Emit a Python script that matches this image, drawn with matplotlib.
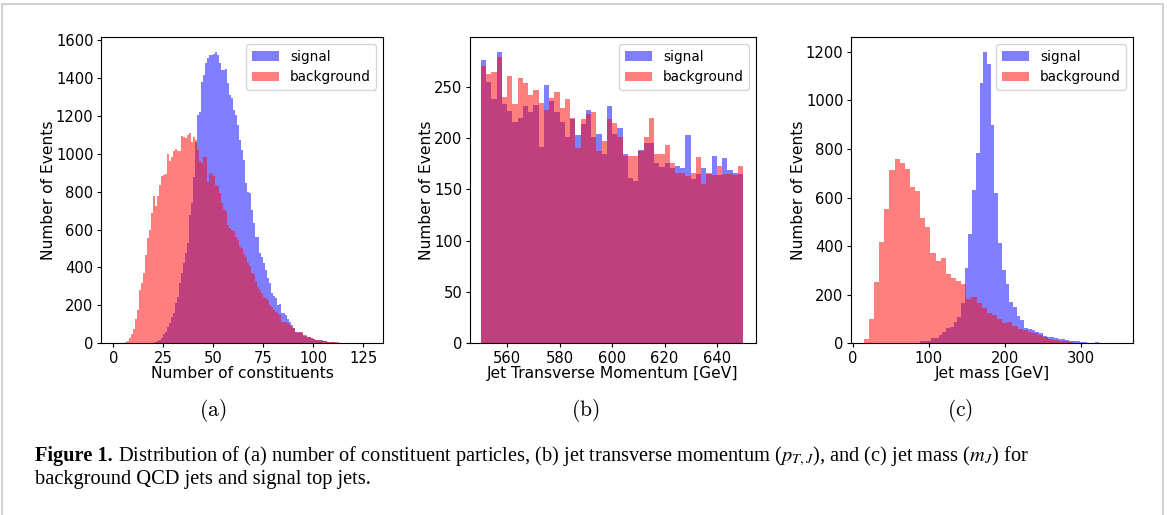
import numpy as np
import matplotlib
matplotlib.use("Agg")
import matplotlib.pyplot as plt
from matplotlib.patches import Rectangle

plt.rcParams['font.family'] = ['DejaVu Sans']
plt.rcParams['mathtext.fontset'] = 'stix'

# ---------------- data ----------------
# (a) number of constituents, unit-width bins 0..129
const_edges = np.arange(0, 130)
const_signal = [
    0, 0, 0, 0, 0, 0, 0, 0, 0, 0,
    0, 0, 0, 0, 0, 0, 0, 0, 0, 0,
    2, 5, 10, 17, 26, 49, 61, 87, 105, 140,
    161, 210, 246, 316, 369, 422, 475, 527, 677, 738,
    879, 1060, 1204, 1222, 1380, 1415, 1477, 1503, 1521, 1521,
    1526, 1537, 1521, 1477, 1441, 1441, 1445, 1371, 1310, 1292,
    1230, 1204, 1151, 1072, 1020, 967, 844, 800, 791, 703,
    633, 562, 562, 475, 457, 422, 387, 343, 316, 264,
    250, 237, 202, 207, 158, 158, 149, 127, 114, 97,
    79, 61, 58, 61, 53, 44, 40, 35, 33, 30,
    24, 20, 19, 17, 15, 13, 11, 9, 8, 6,
    5, 4, 3, 2, 2, 1, 1, 1, 0, 1,
    0, 0, 1, 0, 0, 0, 0, 0, 1]
const_background = [
    0, 0, 0, 1, 2, 3, 5, 10, 26, 49,
    74, 127, 176, 281, 316, 372, 464, 554, 598, 686,
    778, 726, 778, 835, 884, 888, 893, 997, 963, 984,
    1016, 1025, 1014, 1014, 1093, 1090, 1081, 1097, 1108, 1063,
    1090, 1072, 1020, 960, 949, 984, 980, 852, 897, 893,
    880, 835, 830, 791, 738, 710, 700, 624, 610, 598,
    590, 560, 545, 510, 501, 470, 457, 422, 410, 369,
    365, 330, 299, 280, 264, 246, 240, 228, 200, 190,
    176, 167, 158, 149, 114, 110, 114, 105, 97, 88,
    79, 61, 53, 61, 57, 40, 44, 35, 35, 28,
    24, 20, 20, 17, 14, 12, 10, 9, 8, 8,
    7, 6, 5, 4, 3, 2, 1, 1, 0, 0,
    0, 0, 0, 0, 0, 0, 0, 0, 0]

# (b) jet transverse momentum, 50 bins of 2 GeV from 550 to 650
pt_edges = np.linspace(550, 650, 51)
pt_signal = [276, 255, 238, 284, 233, 226, 216, 220, 231, 225,
             232, 191, 252, 236, 225, 216, 201, 219, 203, 214,
             227, 201, 204, 184, 231, 204, 210, 184, 161, 158,
             188, 195, 195, 176, 172, 176, 171, 173, 171, 203,
             160, 165, 171, 165, 183, 164, 181, 169, 166, 165]
pt_background = [270, 262, 264, 279, 240, 260, 233, 259, 254, 242,
                 247, 234, 227, 239, 245, 229, 238, 220, 190, 219,
                 223, 225, 187, 197, 219, 215, 201, 183, 183, 183,
                 187, 201, 220, 184, 184, 193, 176, 166, 166, 163,
                 166, 182, 155, 166, 164, 173, 165, 165, 164, 173]

# (c) jet mass
mass_signal_edges = np.linspace(88.5, 333.5, 51)
mass_signal = [10, 10, 11, 20, 21, 34, 48, 62, 69, 89,
               107, 165, 311, 452, 630, 782, 1070, 1200, 1152, 898,
               617, 411, 302, 244, 171, 148, 114, 96, 62, 58,
               55, 48, 41, 30, 27, 25, 21, 16, 17, 14,
               11, 10, 8, 5, 5, 3, 2, 4, 1, 1]
mass_background_edges = np.linspace(14.5, 352.0, 51)
mass_background = [18, 99, 251, 418, 553, 713, 758, 743, 716, 645,
                   627, 514, 477, 373, 339, 351, 284, 267, 258, 244,
                   181, 192, 165, 144, 126, 116, 99, 85, 87, 71,
                   58, 55, 47, 44, 34, 25, 16, 15, 10, 8,
                   7, 3, 2, 1, 1, 1, 0, 0, 0, 1]

# ---------------- figure ----------------
W, H = 1167, 515
fig = plt.figure(figsize=(W / 100, H / 100), dpi=100)

def px_axes(x0, x1, ytop, ybot):
    return fig.add_axes([x0 / W, (H - ybot) / H, (x1 - x0) / W, (ybot - ytop) / H])

tick_fs = 10.6
label_fs = 11.2
legend_fs = 9.8

panels = [
    (px_axes(101, 383, 37.3, 343.3), const_edges, const_signal, const_edges, const_background,
     "Number of constituents", [0, 25, 50, 75, 100, 125], (-6.2, 134.8)),
    (px_axes(470, 756, 37.3, 343.3), pt_edges, pt_signal, pt_edges, pt_background,
     "Jet Transverse Momentum [GeV]", [560, 580, 600, 620, 640], (545.8, 654.9)),
    (px_axes(851, 1133, 37.3, 343.3), mass_signal_edges, mass_signal, mass_background_edges, mass_background,
     "Jet mass [GeV]", [0, 100, 200, 300], (-2.4, 369.0)),
]

for ax, se, sv, be, bv, xlabel, xt, xl in panels:
    ax.hist(se[:-1], bins=se, weights=sv, color='blue', alpha=0.5, label='signal')
    ax.hist(be[:-1], bins=be, weights=bv, color='red', alpha=0.5, label='background')
    ax.set_xlim(*xl)
    ax.set_xticks(xt)
    ax.set_xlabel(xlabel, fontsize=label_fs, labelpad=0)
    ax.set_ylabel("Number of Events", fontsize=label_fs, labelpad=0)
    ax.tick_params(labelsize=tick_fs, length=2.8, pad=2.6)
    ax.legend(loc='upper right', fontsize=legend_fs)

# sub captions
for x, s in [(213, '(a)'), (585, '(b)'), (960, '(c)')]:
    fig.text(x / W, 1 - 410 / H, r'$\mathrm{' + s + '}$', ha='center', va='center',
             fontsize=15.5, math_fontfamily='cm')

# caption
serif = ['Liberation Serif', 'DejaVu Serif']
cap_fs = 14.7
y1 = 1 - 461 / H
y2 = 1 - 484 / H
t1 = fig.text(35 / W, y1, 'Figure 1.', fontsize=cap_fs, fontweight='bold',
              family=serif, va='baseline')
fig.canvas.draw()
bb = t1.get_window_extent(renderer=fig.canvas.get_renderer())
fig.text(bb.x1 / W, y1,
         ' Distribution of (a) number of constituent particles, (b) jet transverse momentum '
         r'($p_{T,J}$), and (c) jet mass ($m_J$) for',
         fontsize=cap_fs, family=serif, va='baseline')
fig.text(35 / W, y2, 'background QCD jets and signal top jets.', fontsize=cap_fs,
         family=serif, va='baseline')

# frame around figure
fig.add_artist(Rectangle((2 / W, -0.1), (1163 - 2) / W, 0.1 + 1 - 4 / H, transform=fig.transFigure,
                         fill=False, edgecolor='#c8c8c8', linewidth=1.2))

fig.savefig('out.png', dpi=100)
